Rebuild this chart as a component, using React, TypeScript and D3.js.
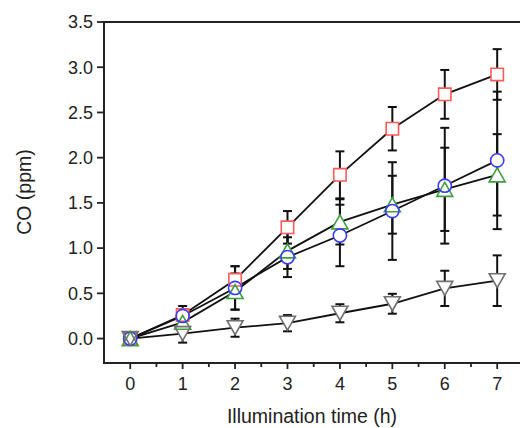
import React from "react";
import * as d3 from "d3";

const times = [0, 1, 2, 3, 4, 5, 6, 7];
const squareVals = [0, 0.26, 0.65, 1.23, 1.81, 2.32, 2.7, 2.92];
const squareErr = [0, 0.1, 0.15, 0.18, 0.26, 0.24, 0.27, 0.28];
const circleVals = [0, 0.25, 0.56, 0.9, 1.14, 1.41, 1.69, 1.97];
const circleErr = [0, 0.07, 0.24, 0.22, 0.34, 0.54, 0.64, 0.76];
const triUpVals = [0, 0.18, 0.52, 0.97, 1.29, 1.48, 1.65, 1.81];
const triUpErr = [0, 0.05, 0.2, 0.2, 0.25, 0.32, 0.46, 0.45];
const triDownVals = [0, 0.055, 0.12, 0.17, 0.28, 0.385, 0.555, 0.64];
const triDownErr = [0, 0.1, 0.1, 0.09, 0.1, 0.11, 0.195, 0.28];

const xTickVals = [0, 1, 2, 3, 4, 5, 6, 7];
const xMinorVals = [0.5, 1.5, 2.5, 3.5, 4.5, 5.5, 6.5];
const yTickVals = [0, 0.5, 1, 1.5, 2, 2.5, 3, 3.5];

const xTitle = "Illumination time (h)";
const yTitle = "CO (ppm)";

type Series = { vals: number[]; err: number[]; color: string; shape: string };

const series: Series[] = [
  { vals: squareVals, err: squareErr, color: "#ff5a5a", shape: "square" },
  { vals: triUpVals, err: triUpErr, color: "#3f9f3f", shape: "up" },
  { vals: circleVals, err: circleErr, color: "#3c3cff", shape: "circle" },
  { vals: triDownVals, err: triDownErr, color: "#707070", shape: "down" },
];

const W = 520;
const H = 428;

const x = d3.scaleLinear().domain([-0.5, 7.5]).range([104, 523.4]);
const y = d3.scaleLinear().domain([-0.27, 3.5]).range([363, 22]);

function markerPath(shape: string, cx: number, cy: number): string {
  if (shape === "square") {
    const s = 6.2;
    return `M${cx - s},${cy - s}H${cx + s}V${cy + s}H${cx - s}Z`;
  }
  if (shape === "circle") {
    const p = d3.path();
    p.arc(cx, cy, 6.6, 0, Math.PI * 2);
    p.closePath();
    return p.toString();
  }
  if (shape === "up") {
    const w = 8, h = 7;
    return `M${cx},${cy - h}L${cx + w},${cy + h}L${cx - w},${cy + h}Z`;
  }
  const w = 8, h = 7;
  return `M${cx},${cy + h}L${cx + w},${cy - h}L${cx - w},${cy - h}Z`;
}

export default function App() {
  const line = d3
    .line<number>()
    .x((_, i) => x(times[i]))
    .y((d) => y(d));
  const font = "'Liberation Sans', Arial, sans-serif";
  const axisColor = "#222";
  return (
    <svg
      width={W}
      height={H}
      style={{ position: "absolute", left: 0, top: 0, background: "#fff" }}
      fontFamily={font}
    >
      <rect x={0} y={0} width={W} height={H} fill="#fff" />
      {/* connecting lines */}
      {series.map((s, k) => (
        <path key={"l" + k} d={line(s.vals) || ""} fill="none" stroke="#111" strokeWidth={1.8} />
      ))}
      {/* error bars */}
      {series.map((s, k) => (
        <g key={"e" + k} stroke="#111" strokeWidth={2}>
          {s.vals.map((v, i) =>
            s.err[i] > 0 ? (
              <g key={i}>
                <line x1={x(times[i])} x2={x(times[i])} y1={y(v - s.err[i])} y2={y(v + s.err[i])} />
                <line x1={x(times[i]) - 4.5} x2={x(times[i]) + 4.5} y1={y(v + s.err[i])} y2={y(v + s.err[i])} />
                <line x1={x(times[i]) - 4.5} x2={x(times[i]) + 4.5} y1={y(v - s.err[i])} y2={y(v - s.err[i])} />
              </g>
            ) : null
          )}
        </g>
      ))}
      {/* marker fills */}
      {series.map((s, k) => (
        <g key={"f" + k}>
          {s.vals.map((v, i) => (
            <path key={i} d={markerPath(s.shape, x(times[i]), y(v))} fill="#fff" stroke="none" />
          ))}
        </g>
      ))}
      {/* marker outlines */}
      {series.map((s, k) => (
        <g key={"o" + k}>
          {s.vals.map((v, i) => (
            <path key={i} d={markerPath(s.shape, x(times[i]), y(v))} fill="none" stroke={s.color} strokeWidth={1.6} />
          ))}
        </g>
      ))}
      {/* frame */}
      <g stroke={axisColor} strokeWidth={2} fill="none">
        <line x1={x(-0.5)} x2={x(-0.5)} y1={y(3.5)} y2={y(-0.27) + 1} />
        <line x1={x(-0.5) - 1} x2={W} y1={y(3.5)} y2={y(3.5)} />
        <line x1={x(-0.5) - 1} x2={W} y1={y(-0.27)} y2={y(-0.27)} />
      </g>
      {/* x ticks */}
      <g stroke={axisColor} strokeWidth={1.8}>
        {xTickVals.map((t) => (
          <line key={t} x1={x(t)} x2={x(t)} y1={y(-0.27)} y2={y(-0.27) + 6} />
        ))}
        {xMinorVals.map((t) => (
          <line key={t} x1={x(t)} x2={x(t)} y1={y(-0.27)} y2={y(-0.27) + 4} />
        ))}
        {yTickVals.map((t) => (
          <line key={t} x1={x(-0.5) - 7} x2={x(-0.5)} y1={y(t)} y2={y(t)} />
        ))}
      </g>
      <g fontSize={18} fill="#222">
        {xTickVals.map((t) => (
          <text key={t} x={x(t)} y={390} textAnchor="middle">
            {d3.format("d")(t)}
          </text>
        ))}
        {yTickVals.map((t) => (
          <text key={t} x={93} y={y(t) + 6.3} textAnchor="end">
            {d3.format(".1f")(t)}
          </text>
        ))}
      </g>
      <text x={312} y={423} textAnchor="middle" fontSize={19.5} fill="#222">
        {xTitle}
      </text>
      <text
        transform="translate(31,192) rotate(-90)"
        textAnchor="middle"
        fontSize={19.5}
        fill="#222"
      >
        {yTitle}
      </text>
    </svg>
  );
}
